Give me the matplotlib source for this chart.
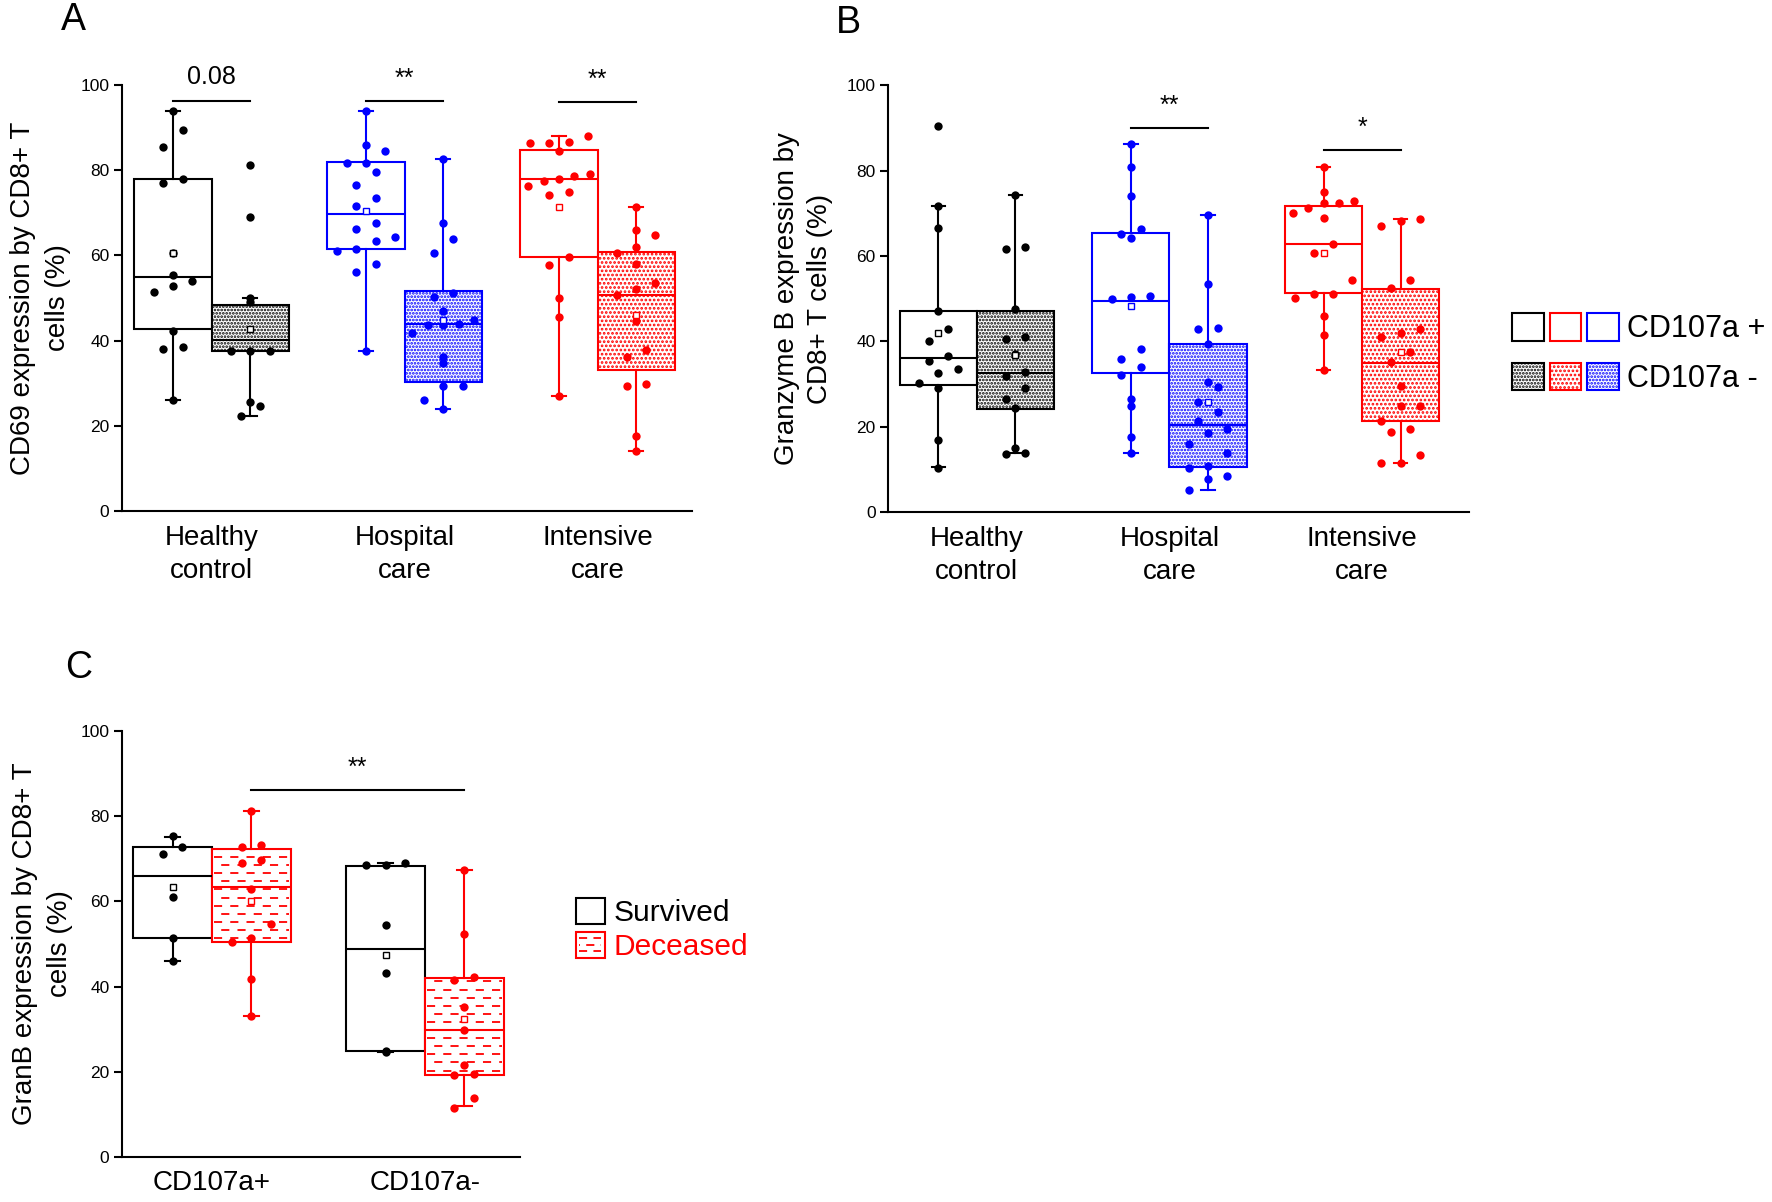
import numpy as np
import matplotlib
matplotlib.use('Agg')
import matplotlib.pyplot as plt
from matplotlib.patches import Patch, Rectangle
from matplotlib.lines import Line2D
from matplotlib.legend_handler import HandlerTuple, HandlerBase

plt.rcParams['font.family'] = ['Liberation Sans', 'DejaVu Sans']
plt.rcParams['hatch.linewidth'] = 1.3

BLACK, RED, BLUE = '#000000', '#ff0000', '#0000ff'

# ---------------- Panel A: CD69 ----------------
groups_ab = ['Healthy\ncontrol', 'Hospital\ncare', 'Intensive\ncare']
# box order: HC+, HC-, Hosp+, Hosp-, ICU+, ICU-
a_q1 = [42.7, 37.5, 61.5, 30.2, 59.7, 33.2]
a_med = [55.0, 40.1, 69.6, 43.9, 78.0, 50.8]
a_q3 = [78.0, 48.3, 82.0, 51.7, 84.8, 60.9]
a_lo = [26.0, 22.4, 37.6, 24.0, 27.0, 14.1]
a_hi = [94.0, 50.0, 94.0, 82.7, 88.0, 71.3]
a_mean = [60.6, 42.7, 70.5, 44.9, 71.3, 46.1]
a_pts = [
    [94, 89.4, 85.4, 78, 77.1, 60.6, 55.5, 54, 52.8, 51.4, 42.2, 38.5, 38.1, 26],
    [81.3, 68.9, 50, 49, 37.5, 37.5, 37.5, 25.6, 24.7, 22.4],
    [94, 86, 84.6, 81.8, 81.8, 79.5, 76.6, 73.5, 71.7, 67.5, 66.2, 64.2, 63.3, 61.5, 61, 58, 56, 37.6],
    [82.7, 67.5, 63.8, 60.6, 51.2, 50.3, 47, 44.9, 44, 43.6, 43.6, 41.8, 36.2, 34.8, 29.4, 29.4, 26.1, 24],
    [88, 86.7, 86.3, 86.3, 84.5, 79, 78.6, 78, 77.5, 76.2, 74.8, 74.1, 59.7, 57.8, 50, 45.5, 27],
    [71.3, 66, 64.7, 62, 60.6, 58, 53.5, 52, 50.8, 44.5, 37.7, 36.2, 29.8, 29.4, 17.5, 14.1],
]
a_sig = ['0.08', '**', '**']
a_sig_y = [96.3, 96.3, 95.9]

# ---------------- Panel B: Granzyme B ----------------
b_q1 = [29.8, 24.2, 32.6, 10.5, 51.3, 21.4]
b_med = [36.2, 32.6, 49.5, 20.5, 62.9, 34.9]
b_q3 = [47.1, 47.1, 65.5, 39.4, 71.7, 52.2]
b_lo = [10.5, 13.8, 13.8, 5.1, 33.2, 11.4]
b_hi = [71.7, 74.4, 86.3, 69.7, 80.9, 68.6]
b_mean = [41.9, 36.7, 48.2, 25.7, 60.8, 37.6]
b_pts = [
    [90.5, 71.7, 66.5, 47.1, 43, 40.1, 36.5, 35.4, 33.6, 32.5, 30.2, 29.1, 17, 10.3],
    [74.4, 62.2, 61.6, 47.7, 41, 40.5, 37, 32.9, 31.8, 29.1, 26.6, 24.4, 15, 13.8, 13.6],
    [86.3, 80.9, 74, 66.4, 65.2, 64.3, 50.7, 50.4, 50, 38.3, 35.9, 34.1, 32.2, 26.6, 24.8, 17.7, 13.8],
    [69.7, 53.4, 43.2, 42.8, 39.5, 30.4, 29.3, 25.7, 23.5, 21.4, 19.5, 18.6, 15.9, 13.8, 10.9, 10.3, 8.4, 7.8, 5.1],
    [80.9, 75.1, 72.8, 72.4, 72.4, 71.2, 70, 69, 62.8, 60.7, 54.3, 51, 51, 50.1, 45.9, 41.4, 33.2],
    [68.6, 68.1, 67, 54.3, 52.6, 42.8, 41.9, 41, 37.4, 35.2, 29.5, 24.8, 24.8, 21.4, 19.5, 18.8, 13.4, 11.6, 11.4],
]
b_sig = ['', '**', '*']
b_sig_y = [None, 89.9, 84.9]

# ---------------- Panel C: GranB by outcome ----------------
groups_c = ['CD107a+', 'CD107a-']
# box order: Survived+, Deceased+, Survived-, Deceased-
c_q1 = [51.3, 50.4, 25.0, 19.3]
c_med = [66.0, 63.3, 48.9, 29.8]
c_q3 = [72.8, 72.4, 68.3, 42.0]
c_lo = [45.9, 33.2, 24.7, 11.9]
c_hi = [75.2, 81.2, 68.9, 67.4]
c_mean = [63.3, 60.2, 47.3, 32.4]
c_pts = [
    [75.3, 72.7, 71.1, 61.1, 51.5, 45.9],
    [81.2, 73.3, 72.7, 69.8, 68.9, 62.8, 54.7, 51.5, 50.4, 41.8, 33.2],
    [68.9, 68.5, 68.5, 54.4, 43.1, 25.0, 24.7],
    [67.4, 52.4, 42.2, 41.5, 35.2, 29.8, 21.7, 19.6, 19.3, 13.8, 11.5],
]
c_sig_y = 86.2


def spread(vals, box_w, bin_size=5.0):
    # bin-based spreading of points inside a box (like Origin's overlay)
    vals = np.asarray(vals, float)
    off = np.zeros_like(vals)
    bins = np.floor(vals / bin_size)
    for b in np.unique(bins):
        idx = np.where(bins == b)[0]
        idx = idx[np.argsort(vals[idx])]
        n = len(idx)
        step = min(0.25, 0.8 / max(n - 1, 1)) * box_w
        off[idx] = (np.arange(n) - (n - 1) / 2) * step
    return off


def style_axis(ax):
    for s in ['top', 'right']:
        ax.spines[s].set_visible(False)
    for s in ['left', 'bottom']:
        ax.spines[s].set_linewidth(1.5)
    ax.set_ylim(0, 100)
    ax.set_yticks(range(0, 101, 20))
    ax.tick_params(axis='y', length=6, width=1.5, labelsize=12.5, pad=3)
    ax.tick_params(axis='x', length=0, labelsize=20, pad=10)


def draw_boxes(ax, pos, w, q1, med, q3, lo, hi, mean, pts, colors, hatches):
    stats = []
    for i in range(len(pos)):
        stats.append(dict(q1=q1[i], med=med[i], q3=q3[i], whislo=lo[i],
                          whishi=hi[i], mean=mean[i], fliers=[]))
    res = ax.bxp(stats, positions=pos, widths=w, patch_artist=True,
                 showmeans=True, showfliers=False, capwidths=0.07,
                 boxprops=dict(linewidth=1.5),
                 whiskerprops=dict(linewidth=1.5),
                 capprops=dict(linewidth=1.5),
                 medianprops=dict(linewidth=1.5),
                 meanprops=dict(marker='s', markersize=4.5, markerfacecolor='white',
                                markeredgewidth=1.0))
    for i, col in enumerate(colors):
        box = res['boxes'][i]
        box.set_facecolor('white')
        box.set_edgecolor(col)
        if hatches[i]:
            box.set_hatch(hatches[i])
        for art in res['whiskers'][2 * i:2 * i + 2] + res['caps'][2 * i:2 * i + 2]:
            art.set_color(col)
        res['medians'][i].set_color(col)
        res['means'][i].set_markeredgecolor(col)
        res['means'][i].set_zorder(6)
        v = np.asarray(pts[i], float)
        ax.plot(pos[i] + spread(v, w), v, 'o', color=col, ms=6, mew=0,
                zorder=5, clip_on=False)
    return res


def sig(ax, x1, x2, y, txt, dy=3.6):
    ax.plot([x1, x2], [y, y], color='black', lw=1.5, clip_on=False)
    ax.text((x1 + x2) / 2, y + dy, txt, ha='center', va='baseline',
            fontsize=18, clip_on=False)


fig = plt.figure(figsize=(17.72, 12.02), dpi=100)

box_cols = [BLACK, BLACK, BLUE, BLUE, RED, RED]
box_hatch = [None, '.....', None, '.....', None, '....']
w_ab = 0.4
pos_ab = [1 - w_ab / 2, 1 + w_ab / 2, 2 - w_ab / 2, 2 + w_ab / 2, 3 - w_ab / 2, 3 + w_ab / 2]

# Panel A
axA = fig.add_axes([0.0688, 0.5749, 0.3217, 0.3544])
style_axis(axA)
draw_boxes(axA, pos_ab, w_ab, a_q1, a_med, a_q3, a_lo, a_hi, a_mean, a_pts,
           box_cols, box_hatch)
axA.set_xlim(0.535, 3.489)
axA.set_xticks([1, 2, 3])
axA.set_xticklabels(groups_ab, linespacing=1.35)
axA.set_ylabel('CD69 expression by CD8+ T\ncells (%)', fontsize=20, linespacing=1.45)
axA.yaxis.label.set_verticalalignment('center')
axA.yaxis.set_label_coords(-0.143, 0.5)
for g, (t, y) in enumerate(zip(a_sig, a_sig_y)):
    sig(axA, pos_ab[2 * g], pos_ab[2 * g + 1], y, t, dy=3.6 if t != '0.08' else 3.9)

# Panel B
axB = fig.add_axes([0.5012, 0.574, 0.328, 0.355])
style_axis(axB)
draw_boxes(axB, pos_ab, w_ab, b_q1, b_med, b_q3, b_lo, b_hi, b_mean, b_pts,
           box_cols, box_hatch)
axB.set_xlim(0.539, 3.557)
axB.set_xticks([1, 2, 3])
axB.set_xticklabels(groups_ab, linespacing=1.35)
axB.set_ylabel('Granzyme B expression by\nCD8+ T cells (%)', fontsize=20, linespacing=1.35)
axB.yaxis.label.set_verticalalignment('center')
axB.yaxis.set_label_coords(-0.146, 0.5)
for g, (t, y) in enumerate(zip(b_sig, b_sig_y)):
    if t:
        sig(axB, pos_ab[2 * g], pos_ab[2 * g + 1], y, t)

# Panel C
w_c = 0.37
pos_c = [1 - w_c / 2, 1 + w_c / 2, 2 - w_c / 2, 2 + w_c / 2]
axC = fig.add_axes([0.0688, 0.0374, 0.2246, 0.3545])
style_axis(axC)
draw_boxes(axC, pos_c, w_c, c_q1, c_med, c_q3, c_lo, c_hi, c_mean, c_pts,
           [BLACK, RED, BLACK, RED], [None, None, None, None])
# dashed fill of the deceased boxes
for i in [1, 3]:
    ys = np.arange(c_q1[i] + 1.0, c_q3[i] - 0.5, 1.9)
    for k, yy in enumerate(ys):
        axC.plot([pos_c[i] - w_c / 2 + 0.01, pos_c[i] + w_c / 2 - 0.01], [yy, yy],
                 color=RED, lw=1.3, zorder=2.5,
                 linestyle=(0 if k % 2 == 0 else 5, (4.5, 4.5)))
axC.set_xlim(0.577, 2.446)
axC.set_xticks([1, 2])
axC.set_xticklabels(groups_c)
axC.tick_params(axis='x', pad=9)
axC.set_ylabel('GranB expression by CD8+ T\ncells (%)', fontsize=20, linespacing=1.45)
axC.yaxis.label.set_verticalalignment('center')
axC.yaxis.set_label_coords(-0.199, 0.5)
sig(axC, pos_c[1], pos_c[3], c_sig_y, '**')

# panel letters
fig.text(61 / 1772, 1 - 2 / 1202, 'A', fontsize=27, ha='left', va='top')
fig.text(836 / 1772, 1 - 5 / 1202, 'B', fontsize=27, ha='left', va='top')
fig.text(65 / 1772, 1 - 650 / 1202, 'C', fontsize=27, ha='left', va='top')

# legend B
hp = tuple(Patch(facecolor='white', edgecolor=c, lw=1.5) for c in [BLACK, RED, BLUE])
hm = tuple(Patch(facecolor='white', edgecolor=c, lw=1.5, hatch=h)
           for c, h in zip([BLACK, RED, BLUE], ['.....', '....', '.....']))
fig.legend([hp, hm], ['CD107a +', 'CD107a -'],
           handler_map={tuple: HandlerTuple(ndivide=None, pad=0.2)},
           fontsize=22, frameon=False, loc='center left',
           bbox_to_anchor=(1512 / 1772, 1 - 353.5 / 1202),
           borderaxespad=0, borderpad=0, handlelength=3.5, handleheight=1.0,
           handletextpad=0.25, labelspacing=0.6)


class HandlerDashBox(HandlerBase):
    def create_artists(self, legend, orig_handle, xdescent, ydescent, width,
                       height, fontsize, trans):
        x0, y0 = -xdescent, -ydescent
        arts = [Rectangle((x0, y0), width, height, facecolor='white',
                          edgecolor=RED, lw=1.5, transform=trans)]
        for k, f in enumerate([0.25, 0.5, 0.75]):
            arts.append(Line2D([x0 + 0.12 * width, x0 + 0.88 * width],
                               [y0 + f * height] * 2, color=RED, lw=1.3,
                               linestyle=(0 if k % 2 == 0 else 4, (4.5, 3.5)),
                               transform=trans))
        return arts


h_surv = Patch(facecolor='white', edgecolor=BLACK, lw=1.5)
h_dec = Patch(facecolor='white', edgecolor=RED, lw=1.5)
fig.legend([h_surv, h_dec], ['Survived', 'Deceased'],
           handler_map={h_dec: HandlerDashBox()},
           fontsize=21.5, frameon=False, loc='center left',
           bbox_to_anchor=(576 / 1772, 1 - 929.5 / 1202),
           borderaxespad=0, borderpad=0, handlelength=0.97, handleheight=0.97,
           handletextpad=0.3, labelspacing=0.15, labelcolor=[BLACK, RED])

fig.savefig('out.png', dpi=100)
